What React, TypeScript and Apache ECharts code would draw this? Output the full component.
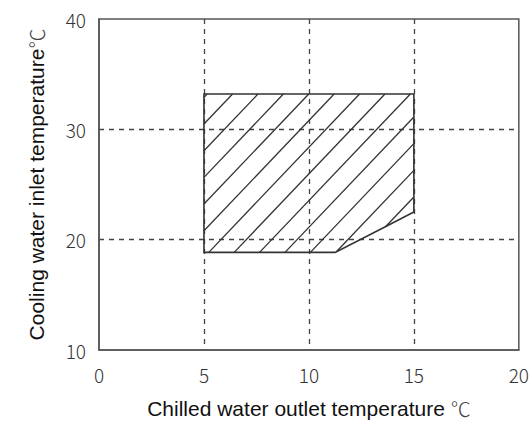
import React, { useEffect, useRef } from "react";
import * as echarts from "echarts";

const xTicks = [0, 5, 10, 15, 20];
const yTicks = [10, 20, 30, 40];
const regionX = [5, 11.25, 13.57, 15, 15, 5];
const regionY = [18.85, 18.85, 21.1, 22.5, 33.2, 33.2];

const xName = "Chilled water outlet temperature {u|℃}";
const yName = "Cooling water inlet temperature{u|℃}";

export default function App() {
  const ref = useRef<HTMLDivElement>(null);
  useEffect(() => {
    if (!ref.current) return;
    const chart = echarts.init(ref.current, null, { renderer: "svg" });
    const lineColor = "#444";
    const renderItem = (params: any, api: any) => {
      const pts: number[][] = regionX.map((x, i) => api.coord([x, regionY[i]]));
      const m = 1.05;
      const spacing = 25.4;
      const left = Math.min(...pts.map((p) => p[0]));
      const top = Math.min(...pts.map((p) => p[1]));
      const phase = 3.2;
      const children: any[] = [];
      const bs = pts.map((p) => m * p[0] + p[1]);
      const bMin = Math.min(...bs);
      const bMax = Math.max(...bs);
      for (let k = -50; k < 200; k++) {
        const x0 = left + phase + k * spacing;
        const b = m * x0 + top;
        if (b <= bMin || b >= bMax) continue;
        const xs: number[] = [];
        for (let i = 0; i < pts.length; i++) {
          const p1 = pts[i];
          const p2 = pts[(i + 1) % pts.length];
          const f1 = m * p1[0] + p1[1] - b;
          const f2 = m * p2[0] + p2[1] - b;
          if ((f1 < 0 && f2 >= 0) || (f1 >= 0 && f2 < 0)) {
            const t = f1 / (f1 - f2);
            xs.push(p1[0] + t * (p2[0] - p1[0]));
          }
        }
        xs.sort((a, c) => a - c);
        for (let j = 0; j + 1 < xs.length; j += 2) {
          children.push({
            type: "line",
            shape: { x1: xs[j], y1: b - m * xs[j], x2: xs[j + 1], y2: b - m * xs[j + 1] },
            style: { stroke: "#333", lineWidth: 1.3 },
          });
        }
      }
      children.push({
        type: "polygon",
        shape: { points: pts },
        style: { fill: "none", stroke: "#333", lineWidth: 1.6 },
      });
      return { type: "group", children };
    };
    const nameStyle = {
      fontFamily: "Liberation Sans",
      fontSize: 21,
      color: "#111",
      rich: {
        u: { fontFamily: "Noto Sans CJK SC", fontSize: 20, color: "#444", fontWeight: 300 },
      },
    };
    chart.setOption({
      animation: false,
      grid: {
        left: 99,
        right: 11,
        top: 19,
        bottom: 71,
        show: true,
        borderColor: "#555",
        borderWidth: 1.5,
        backgroundColor: "transparent",
      },
      xAxis: {
        type: "value",
        min: xTicks[0],
        max: xTicks[xTicks.length - 1],
        interval: 5,
        name: xName,
        nameLocation: "middle",
        nameGap: 48,
        nameTextStyle: nameStyle,
        axisLine: { show: true, lineStyle: { color: "#555", width: 1.5 } },
        axisTick: { show: false },
        axisLabel: { margin: 15, fontFamily: "Noto Sans CJK SC", fontWeight: 300, fontSize: 19, color: "#333" },
        splitLine: {
          show: true,
          showMinLine: false,
          showMaxLine: false,
          lineStyle: { color: lineColor, type: [5, 5], width: 1.3 },
        },
      },
      yAxis: {
        type: "value",
        min: yTicks[0],
        max: yTicks[yTicks.length - 1],
        interval: 10,
        name: yName,
        nameLocation: "middle",
        nameGap: 52,
        nameTextStyle: nameStyle,
        axisLine: { show: true, lineStyle: { color: "#555", width: 1.5 } },
        axisTick: { show: false },
        axisLabel: { margin: 13, fontFamily: "Noto Sans CJK SC", fontWeight: 300, fontSize: 19, color: "#333" },
        splitLine: {
          show: true,
          showMinLine: false,
          showMaxLine: false,
          lineStyle: { color: lineColor, type: [5, 5], width: 1.3 },
        },
      },
      series: [
        {
          type: "custom",
          data: [[regionX[0], regionY[0]]],
          renderItem,
          clip: true,
          silent: true,
        },
      ],
    });
    return () => chart.dispose();
  }, []);
  return <div ref={ref} style={{ width: 532, height: 424, position: "absolute", left: 0, top: 0 }} />;
}
